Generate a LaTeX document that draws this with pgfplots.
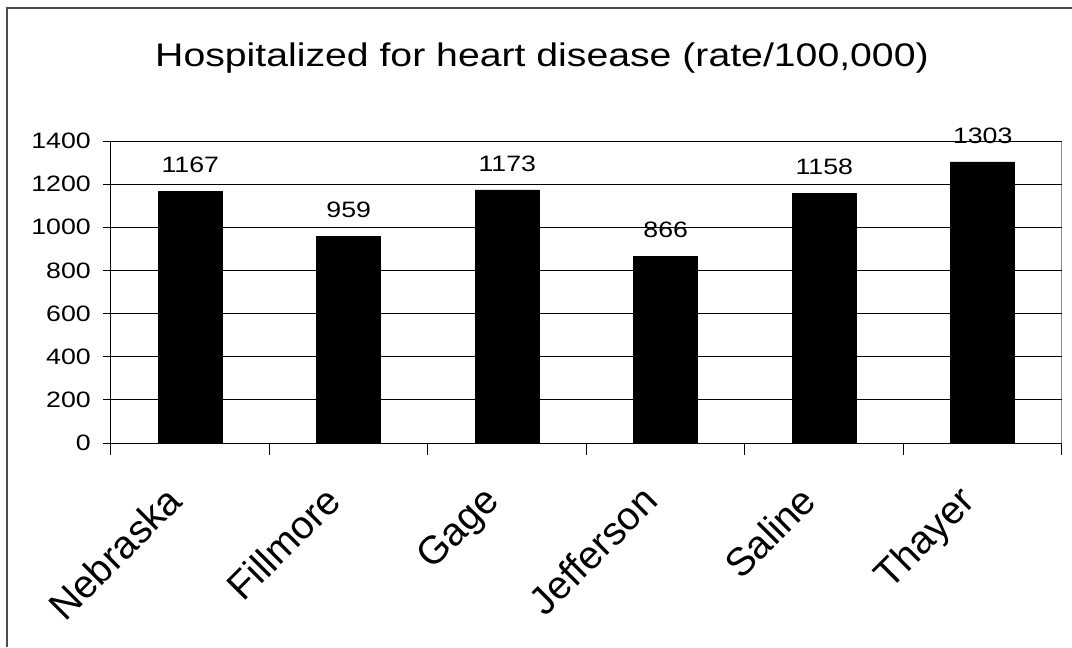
\documentclass[border=0pt]{standalone}
\usepackage{pgfplots}
\pgfplotsset{compat=1.18}
\usepackage{fontspec}
\setmainfont{Liberation Sans}
\newfontfamily\wide{Liberation Sans}[FakeStretch=1.2]
\begin{document}
\begin{tikzpicture}[x=0.75pt,y=-0.75pt]
\useasboundingbox (0,0) rectangle (1072,647);
\draw[line width=1.2pt, black!70] (7,647) -- (7,8) -- (1072,8);
\node[anchor=base, inner sep=0pt, font=\wide\fontsize{24.5}{28}\selectfont] at (542,66) {Hospitalized for heart disease (rate/100,000)};
\begin{axis}[at={(83.25pt,-332.25pt)}, anchor=south west, scale only axis,
  width=713.25pt, height=226.5pt,
  ymin=0, ymax=1400, ytick={0,200,...,1400},
  xmin=-0.5, xmax=5.5,
  xtick={0,...,5}, xticklabels={Nebraska,Fillmore,Gage,Jefferson,Saline,Thayer},
  tick pos=left,
  major tick length=0pt,
  extra x ticks={-0.5,0.5,...,5.5}, extra x tick labels={},
  extra x tick style={major tick length=9pt, tick align=outside, tick style={black, line width=0.75pt}},
  extra y ticks={0,200,...,1400}, extra y tick labels={},
  extra y tick style={major tick length=6pt, tick align=outside, tick style={black, line width=0.75pt}},
  ymajorgrids, major grid style={black, line width=0.75pt},
  axis line style={black!45, line width=0.75pt},
  /pgf/number format/assume math mode=true,
  /pgf/number format/1000 sep={},
  yticklabel style={font=\wide\fontsize{16.7}{18}\selectfont, anchor=east, inner sep=0pt, xshift=-15pt},
  xticklabel style={font=\fontsize{29.5}{32}\selectfont, rotate=45, anchor=north east, inner sep=0pt, xshift=-35pt, yshift=-7.4pt},
  clip=false,
]
\addplot[ybar, fill=black, draw=black, bar width=48pt,
  nodes near coords,
  every node near coord/.append style={font=\wide\fontsize{16.7}{18}\selectfont, anchor=south, inner sep=0pt, yshift=13.5pt, black, /pgf/number format/1000 sep={}},
] coordinates {(0,1167)(1,959)(2,1173)(3,866)(4,1158)(5,1303)};
\draw[black, line width=0.75pt] (rel axis cs:0,0) -- (rel axis cs:1,0);
\draw[black, line width=0.75pt] (rel axis cs:0,0) -- (rel axis cs:0,1);
\end{axis}
\end{tikzpicture}
\end{document}
